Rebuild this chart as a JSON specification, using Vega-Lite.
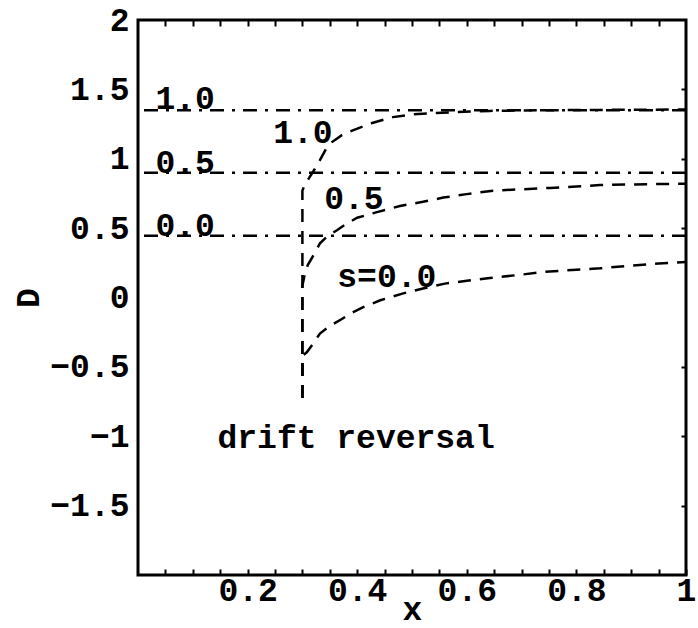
{
  "$schema": "https://vega.github.io/schema/vega-lite/v6.json",
  "autosize": "none",
  "width": 548,
  "height": 555,
  "padding": {"left": 138, "top": 20, "right": 12, "bottom": 53},
  "background": "white",
  "config": {
    "view": {"stroke": "black", "strokeWidth": 3},
    "axis": {
      "grid": false, "domain": false,
      "labelFont": "Liberation Mono", "labelFontSize": 33, "labelFontWeight": "bold", "labelColor": "black",
      "titleFont": "Liberation Mono", "titleFontSize": 33, "titleFontWeight": "bold", "titleColor": "black",
      "tickColor": "black", "tickWidth": 2, "labelFlush": false, "labelOverlap": false
    }
  },
  "datasets": {
    "curves": [
      {"s": "0.0", "i": 0, "x": 0.3, "D": -0.725},
      {"s": "0.0", "i": 1, "x": 0.3, "D": -0.42},
      {"s": "0.0", "i": 2, "x": 0.308, "D": -0.395},
      {"s": "0.0", "i": 3, "x": 0.32, "D": -0.33},
      {"s": "0.0", "i": 4, "x": 0.332, "D": -0.26},
      {"s": "0.0", "i": 5, "x": 0.35, "D": -0.205},
      {"s": "0.0", "i": 6, "x": 0.372, "D": -0.155},
      {"s": "0.0", "i": 7, "x": 0.39, "D": -0.11},
      {"s": "0.0", "i": 8, "x": 0.411, "D": -0.07},
      {"s": "0.0", "i": 9, "x": 0.442, "D": -0.02},
      {"s": "0.0", "i": 10, "x": 0.484, "D": 0.03},
      {"s": "0.0", "i": 11, "x": 0.52, "D": 0.065},
      {"s": "0.0", "i": 12, "x": 0.56, "D": 0.1},
      {"s": "0.0", "i": 13, "x": 0.6, "D": 0.12},
      {"s": "0.0", "i": 14, "x": 0.642, "D": 0.14},
      {"s": "0.0", "i": 15, "x": 0.7, "D": 0.165},
      {"s": "0.0", "i": 16, "x": 0.743, "D": 0.185},
      {"s": "0.0", "i": 17, "x": 0.8, "D": 0.2},
      {"s": "0.0", "i": 18, "x": 0.843, "D": 0.21},
      {"s": "0.0", "i": 19, "x": 0.9, "D": 0.23},
      {"s": "0.0", "i": 20, "x": 0.95, "D": 0.245},
      {"s": "0.0", "i": 21, "x": 1.0, "D": 0.255},
      {"s": "0.5", "i": 0, "x": 0.3, "D": -0.725},
      {"s": "0.5", "i": 1, "x": 0.3, "D": 0.085},
      {"s": "0.5", "i": 2, "x": 0.305, "D": 0.18},
      {"s": "0.5", "i": 3, "x": 0.31, "D": 0.235},
      {"s": "0.5", "i": 4, "x": 0.318, "D": 0.29},
      {"s": "0.5", "i": 5, "x": 0.332, "D": 0.39},
      {"s": "0.5", "i": 6, "x": 0.345, "D": 0.44},
      {"s": "0.5", "i": 7, "x": 0.363, "D": 0.485},
      {"s": "0.5", "i": 8, "x": 0.38, "D": 0.53},
      {"s": "0.5", "i": 9, "x": 0.4, "D": 0.575},
      {"s": "0.5", "i": 10, "x": 0.436, "D": 0.615},
      {"s": "0.5", "i": 11, "x": 0.478, "D": 0.66},
      {"s": "0.5", "i": 12, "x": 0.52, "D": 0.69},
      {"s": "0.5", "i": 13, "x": 0.557, "D": 0.72},
      {"s": "0.5", "i": 14, "x": 0.6, "D": 0.745},
      {"s": "0.5", "i": 15, "x": 0.648, "D": 0.77},
      {"s": "0.5", "i": 16, "x": 0.7, "D": 0.78},
      {"s": "0.5", "i": 17, "x": 0.752, "D": 0.79},
      {"s": "0.5", "i": 18, "x": 0.8, "D": 0.8},
      {"s": "0.5", "i": 19, "x": 0.843, "D": 0.81},
      {"s": "0.5", "i": 20, "x": 0.9, "D": 0.815},
      {"s": "0.5", "i": 21, "x": 1.0, "D": 0.82},
      {"s": "1.0", "i": 0, "x": 0.3, "D": -0.725},
      {"s": "1.0", "i": 1, "x": 0.3, "D": 0.77},
      {"s": "1.0", "i": 2, "x": 0.305, "D": 0.82},
      {"s": "1.0", "i": 3, "x": 0.312, "D": 0.86},
      {"s": "1.0", "i": 4, "x": 0.32, "D": 0.91},
      {"s": "1.0", "i": 5, "x": 0.332, "D": 0.99},
      {"s": "1.0", "i": 6, "x": 0.343, "D": 1.07},
      {"s": "1.0", "i": 7, "x": 0.354, "D": 1.12},
      {"s": "1.0", "i": 8, "x": 0.372, "D": 1.17},
      {"s": "1.0", "i": 9, "x": 0.392, "D": 1.205},
      {"s": "1.0", "i": 10, "x": 0.429, "D": 1.26},
      {"s": "1.0", "i": 11, "x": 0.465, "D": 1.3},
      {"s": "1.0", "i": 12, "x": 0.502, "D": 1.32},
      {"s": "1.0", "i": 13, "x": 0.54, "D": 1.33},
      {"s": "1.0", "i": 14, "x": 0.575, "D": 1.335},
      {"s": "1.0", "i": 15, "x": 0.642, "D": 1.345},
      {"s": "1.0", "i": 16, "x": 0.75, "D": 1.35},
      {"s": "1.0", "i": 17, "x": 0.85, "D": 1.352},
      {"s": "1.0", "i": 18, "x": 1.0, "D": 1.355}
    ],
    "asymptotes": [
      {"s": "1.0", "D": 1.35},
      {"s": "0.5", "D": 0.9},
      {"s": "0.0", "D": 0.445}
    ],
    "labels": [
      {"label": "1.0", "x": 0.086, "D": 1.355},
      {"label": "0.5", "x": 0.086, "D": 0.9},
      {"label": "0.0", "x": 0.086, "D": 0.445},
      {"label": "1.0", "x": 0.301, "D": 1.11},
      {"label": "0.5", "x": 0.394, "D": 0.64},
      {"label": "s=0.0", "x": 0.454, "D": 0.077},
      {"label": "drift reversal", "x": 0.398, "D": -1.087}
    ]
  },
  "layer": [
    {
      "data": {"name": "asymptotes"},
      "mark": {"type": "rule", "color": "black", "strokeWidth": 2.5, "strokeDash": [14, 8, 3, 8]},
      "encoding": {
        "y": {"field": "D", "type": "quantitative", "scale": {"domain": [-2, 2]}, "axis": null}
      }
    },
    {
      "mark": {"type": "rule", "color": "black", "strokeWidth": 2.5},
      "encoding": {
        "y": {"datum": 0, "type": "quantitative", "axis": null}
      }
    },
    {
      "data": {"name": "curves"},
      "mark": {"type": "line", "color": "black", "strokeWidth": 2.5, "strokeDash": [13, 9]},
      "encoding": {
        "x": {"field": "x", "type": "quantitative", "scale": {"domain": [0, 1], "nice": false},
          "axis": {"orient": "bottom", "title": "x", "format": "~g",
            "values": [0.05, 0.1, 0.15, 0.2, 0.25, 0.3, 0.35, 0.4, 0.45, 0.5, 0.55, 0.6, 0.65, 0.7, 0.75, 0.8, 0.85, 0.9, 0.95, 1],
            "labelExpr": "(abs(datum.value*5 - round(datum.value*5)) < 0.001) ? datum.label : ''",
            "tickSize": -6, "labelPadding": 5, "titleBaseline": "alphabetic", "titleY": 44}},
        "y": {"field": "D", "type": "quantitative", "scale": {"domain": [-2, 2], "nice": false},
          "axis": {"orient": "left", "title": "D", "format": "~g", "values": [-1.5, -1, -0.5, 0, 0.5, 1, 1.5, 2],
            "ticks": false, "labelPadding": 9, "titlePadding": 4}},
        "detail": {"field": "s"},
        "order": {"field": "i", "type": "quantitative"}
      }
    },
    {
      "data": {"name": "labels"},
      "mark": {"type": "text", "font": "Liberation Mono", "fontSize": 33, "fontWeight": "bold", "color": "black", "align": "center", "baseline": "alphabetic"},
      "encoding": {
        "x": {"field": "x", "type": "quantitative",
          "axis": {"orient": "top", "title": null, "labels": false,
            "values": [0.05, 0.1, 0.15, 0.2, 0.25, 0.3, 0.35, 0.4, 0.45, 0.5, 0.55, 0.6, 0.65, 0.7, 0.75, 0.8, 0.85, 0.9, 0.95],
            "tickSize": -6}},
        "y": {"field": "D", "type": "quantitative",
          "axis": {"orient": "right", "title": null, "labels": false, "values": [-1.5, -1, -0.5, 0.5, 1, 1.5], "tickSize": -5}},
        "text": {"field": "label"}
      }
    }
  ]
}
